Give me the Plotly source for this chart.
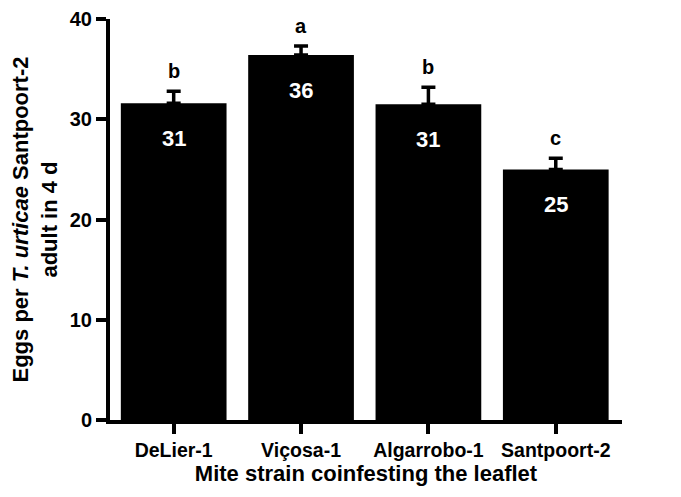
import plotly.graph_objects as go

strains = ["DeLier-1", "Viçosa-1", "Algarrobo-1", "Santpoort-2"]
means = [31.6, 36.4, 31.5, 25.0]
errors = [1.2, 0.9, 1.7, 1.1]
value_labels = ["31", "36", "31", "25"]
letters = ["b", "a", "b", "c"]
y_ticks = [0, 10, 20, 30, 40]

FONT = "Liberation Sans, Arial, sans-serif"

fig = go.Figure()
fig.add_trace(go.Bar(
    x=list(range(len(strains))),
    y=means,
    width=0.83,
    marker=dict(color="black", line=dict(width=0)),
    error_y=dict(type="data", array=errors, arrayminus=[0] * len(errors),
                 symmetric=False, color="black", thickness=3.5, width=7),
    cliponaxis=False,
    showlegend=False,
))

for i, (m, e, lab, let) in enumerate(zip(means, errors, value_labels, letters)):
    fig.add_annotation(x=i, y=m + e, text=f"<b>{let}</b>", showarrow=False,
                       yanchor="bottom", yshift=7,
                       font=dict(family=FONT, size=20, color="black"))
    fig.add_annotation(x=i, y=m, text=f"<b>{lab}</b>", showarrow=False,
                       yanchor="middle", yshift=-35,
                       font=dict(family=FONT, size=22, color="white"))

fig.update_layout(
    width=681, height=497,
    margin=dict(l=102, r=67, t=11, b=85),
    plot_bgcolor="white", paper_bgcolor="white",
    font=dict(family=FONT, color="black"),
)
fig.update_xaxes(
    range=[-0.5, 3.52], automargin=False,
    tickmode="array", tickvals=list(range(len(strains))),
    ticktext=[f"<b>{s}</b>" for s in strains],
    tickfont=dict(family=FONT, size=19.5, color="black"),
    ticks="outside", ticklen=10, tickwidth=4, tickcolor="black",
    showline=True, linewidth=4, linecolor="black",
    showgrid=False, zeroline=False,
    title=dict(text="<b>Mite strain coinfesting the leaflet</b>",
               font=dict(family=FONT, size=22, color="black"), standoff=4),
)
fig.update_yaxes(
    range=[0, 40], automargin=False, ticklabeloverflow="allow",
    tickmode="array", tickvals=y_ticks,
    ticktext=[f"<b>{t}</b>" for t in y_ticks],
    tickfont=dict(family=FONT, size=20, color="black"),
    ticks="outside", ticklen=10, tickwidth=4, tickcolor="black",
    showline=True, linewidth=4, linecolor="black",
    showgrid=False, zeroline=False,
    title=dict(text="<b>Eggs per <i>T. urticae</i> Santpoort-2<br>adult in 4 d</b>",
               font=dict(family=FONT, size=22, color="black"), standoff=12),
)

fig.write_html("out.html")
